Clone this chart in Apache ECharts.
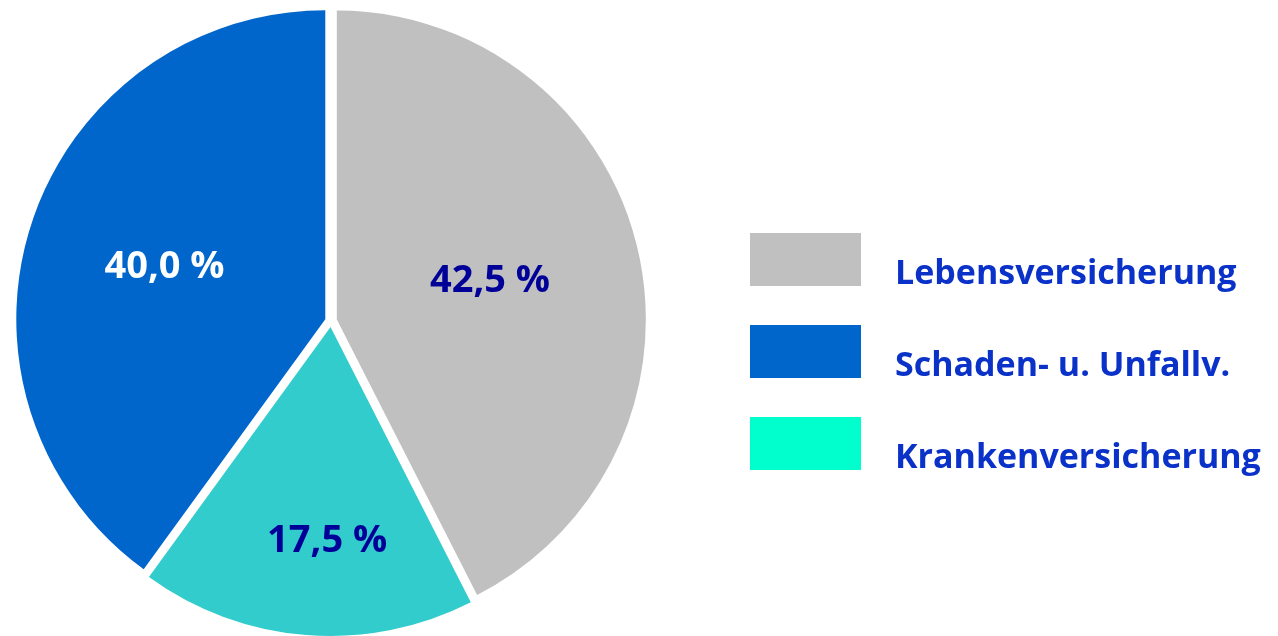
<!DOCTYPE html>
<html>
<head>
<meta charset="utf-8">
<script src="https://cdn.jsdelivr.net/npm/echarts@6/dist/echarts.min.js"></script>
<style>
  html, body { margin: 0; padding: 0; background: #fff; }
  #chart { width: 1278px; height: 636px; }
</style>
</head>
<body>
<div id="chart"></div>
<script>
// slice order follows the pie (clockwise from 12 o'clock)
const categories = ['Lebensversicherung', 'Krankenversicherung', 'Schaden- u. Unfallv.'];
const shares = [42.5, 17.5, 40.0];
const sliceColors = ['#c0c0c0', '#33cccc', '#0066cc'];
const labelColors = ['#000099', '#000099', '#ffffff'];
// legend order and swatch colours as shown on the right
const legendNames = ['Lebensversicherung', 'Schaden- u. Unfallv.', 'Krankenversicherung'];
const legendColors = ['#c0c0c0', '#0066cc', '#00ffcc'];

const chart = echarts.init(document.getElementById('chart'));

// small nudges for the labels that don't sit at half radius
const labelShift = [[0, -2], [9, 57], [-11, -3]];

const option = {
  animation: false,
  legend: {
    orient: 'vertical',
    left: 750,
    top: 233,
    padding: 0,
    itemWidth: 111,
    itemHeight: 53,
    itemGap: 34,
    icon: 'rect',
    selectedMode: false,
    data: legendNames.map((n, i) => ({ name: n, itemStyle: { color: legendColors[i] } })),
    // empty first line pushes the name a bit below the swatch centre
    formatter: (name) => '{s|}\n{t|' + name + '}',
    textStyle: {
      rich: {
        s: { lineHeight: 29, fontSize: 1 },
        t: {
          fontFamily: 'Open Sans',
          fontWeight: 'bold',
          fontSize: 34,
          lineHeight: 46,
          color: '#0a32c8',
          padding: [0, 0, 0, 29]
        }
      }
    }
  },
  series: [
    {
      type: 'pie',
      center: [331, 321],
      radius: [0, 309],
      startAngle: 90,
      clockwise: true,
      selectedMode: 'multiple',
      selectedOffset: 6,
      emphasis: { disabled: true },
      label: {
        show: true,
        position: 'inside',
        formatter: (p) => p.value.toFixed(1).replace('.', ',') + ' %',
        fontFamily: 'Open Sans',
        fontWeight: 'bold',
        fontSize: 38
      },
      labelLayout: (params) => ({
        dx: labelShift[params.dataIndex][0],
        dy: labelShift[params.dataIndex][1]
      }),
      data: categories.map((name, i) => ({
        name: name,
        value: shares[i],
        selected: true,
        itemStyle: { color: sliceColors[i] },
        label: { color: labelColors[i] }
      }))
    }
  ]
};

chart.setOption(option);
</script>
</body>
</html>
